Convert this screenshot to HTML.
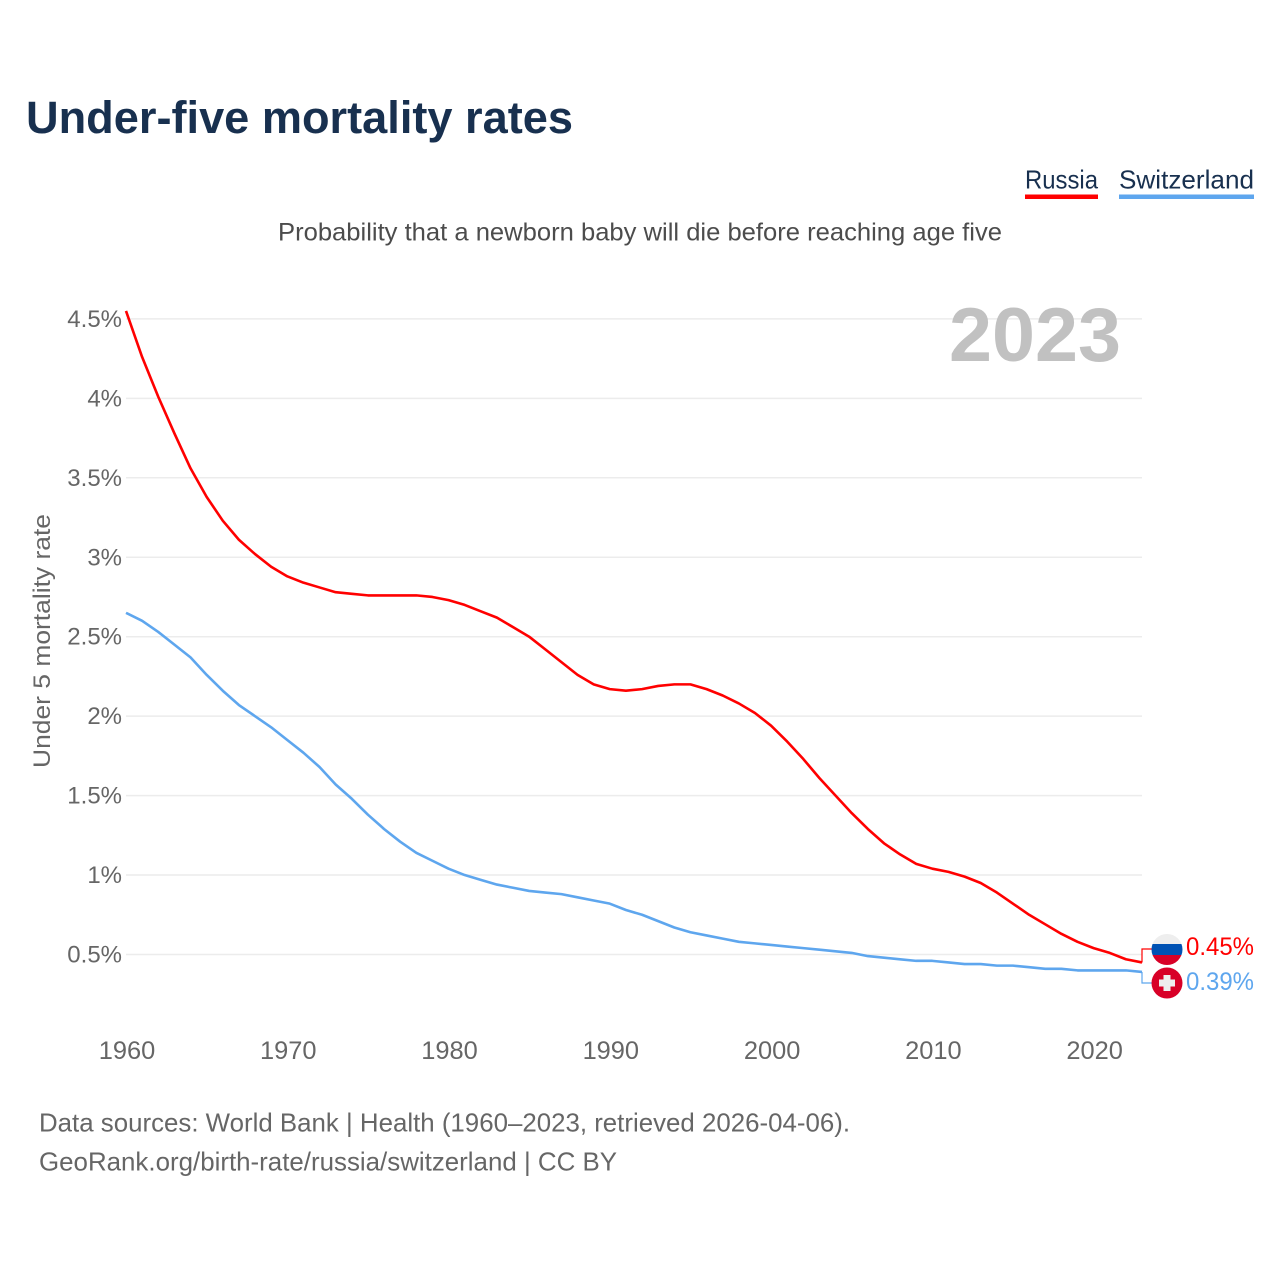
<!DOCTYPE html>
<html lang="en">
<head>
<meta charset="utf-8">
<title>Under-five mortality rates</title>
<style>
html,body{margin:0;padding:0;background:#fff;}
svg{display:block;font-family:"Liberation Sans",sans-serif;}
</style>
</head>
<body>
<svg id="chart" width="1280" height="1280" viewBox="0 0 1280 1280" xmlns="http://www.w3.org/2000/svg">
  <rect x="0" y="0" width="1280" height="1280" fill="#fff"/>
  <text x="26" y="133" font-size="45" font-weight="700" fill="#18304f" textLength="547" lengthAdjust="spacingAndGlyphs">Under-five mortality rates</text>
  <g>
    <g>
      <text x="1025" y="188.5" font-size="26" fill="#18304f" textLength="73" lengthAdjust="spacingAndGlyphs">Russia</text>
      <rect x="1025" y="194.5" width="73" height="4.5" fill="#ff0000"/>
    </g>
    <g>
      <text x="1119" y="188.5" font-size="26" fill="#18304f" textLength="135" lengthAdjust="spacingAndGlyphs">Switzerland</text>
      <rect x="1119" y="194.5" width="135" height="4.5" fill="#5ea6ee"/>
    </g>
  </g>
  <text x="278" y="240.5" font-size="25" fill="#4c4c4c" textLength="724" lengthAdjust="spacingAndGlyphs">Probability that a newborn baby will die before reaching age five</text>
  <g id="grid"></g>
  <g id="yticks"></g>
  <g id="xticks"></g>
  <text x="949" y="361" font-size="76" font-weight="700" fill="#c1c1c1" textLength="172" lengthAdjust="spacingAndGlyphs">2023</text>
  <text transform="translate(50 768) rotate(-90)" x="0" y="0" font-size="24" fill="#666" textLength="254" lengthAdjust="spacingAndGlyphs">Under 5 mortality rate</text>
  <g id="series"></g>
  <g>
    <clipPath id="clipRu"><circle cx="1167" cy="949.5" r="15.5"/></clipPath>
    <g clip-path="url(#clipRu)">
      <rect x="1150" y="933" width="34" height="11" fill="#eeeeee"/>
      <rect x="1150" y="944" width="34" height="11" fill="#0052b4"/>
      <rect x="1150" y="955" width="34" height="12" fill="#d80027"/>
    </g>
  </g>
  <g>
    <circle cx="1167" cy="983" r="15.5" fill="#d80027"/>
    <rect x="1163.5" y="975" width="7" height="16" fill="#eeeeee"/>
    <rect x="1159" y="979.5" width="16" height="7" fill="#eeeeee"/>
  </g>
  <text x="1186" y="955" font-size="25" fill="#ff0000" textLength="68" lengthAdjust="spacingAndGlyphs">0.45%</text>
  <text x="1186" y="990" font-size="25" fill="#5ea6ee" textLength="68" lengthAdjust="spacingAndGlyphs">0.39%</text>
  <text x="39" y="1131.5" font-size="26" fill="#666" textLength="811" lengthAdjust="spacingAndGlyphs">Data sources: World Bank | Health (1960–2023, retrieved 2026-04-06).</text>
  <text x="39" y="1170.5" font-size="26" fill="#666" textLength="578" lengthAdjust="spacingAndGlyphs">GeoRank.org/birth-rate/russia/switzerland | CC BY</text>
</svg>
<script>
const firstYear = 1960;
const russia = [4.55,4.26,4.01,3.78,3.56,3.38,3.23,3.11,3.02,2.94,2.88,2.84,2.81,2.78,2.77,2.76,2.76,2.76,2.76,2.75,2.73,2.70,2.66,2.62,2.56,2.50,2.42,2.34,2.26,2.20,2.17,2.16,2.17,2.19,2.20,2.20,2.17,2.13,2.08,2.02,1.94,1.84,1.73,1.61,1.50,1.39,1.29,1.20,1.13,1.07,1.04,1.02,0.99,0.95,0.89,0.82,0.75,0.69,0.63,0.58,0.54,0.51,0.47,0.45];
const switzerland = [2.65,2.60,2.53,2.45,2.37,2.26,2.16,2.07,2.00,1.93,1.85,1.77,1.68,1.57,1.48,1.38,1.29,1.21,1.14,1.09,1.04,1.00,0.97,0.94,0.92,0.90,0.89,0.88,0.86,0.84,0.82,0.78,0.75,0.71,0.67,0.64,0.62,0.60,0.58,0.57,0.56,0.55,0.54,0.53,0.52,0.51,0.49,0.48,0.47,0.46,0.46,0.45,0.44,0.44,0.43,0.43,0.42,0.41,0.41,0.40,0.40,0.40,0.40,0.39];
const yTickValues = [0.5,1,1.5,2,2.5,3,3.5,4,4.5];
const yTickLabels = ["0.5%","1%","1.5%","2%","2.5%","3%","3.5%","4%","4.5%"];
const xTickLabels = [1960,1970,1980,1990,2000,2010,2020];

const NS = "http://www.w3.org/2000/svg";
function xScale(year){ return 126 + (year - 1960) * 16.127; }
function yScale(v){ return 954.5 - (v - 0.5) * 158.9; }
function mk(tag, attrs, parent){
  const el = document.createElementNS(NS, tag);
  for (const k in attrs) el.setAttribute(k, attrs[k]);
  parent.appendChild(el);
  return el;
}
const grid = document.getElementById("grid");
const yG = document.getElementById("yticks");
const xG = document.getElementById("xticks");
const seriesG = document.getElementById("series");










yTickValues.forEach(function(v, i){
  const line = mk("line", {x1:126, x2:1142, y1:yScale(v), y2:yScale(v), stroke:"#ececec", "stroke-width":1.5}, grid);
  
  
  const t = mk("text", {x:122, y:yScale(v)+8, "text-anchor":"end", "font-size":24, fill:"#666"}, yG);
  
  
  t.textContent = yTickLabels[i];
});
xTickLabels.forEach(function(y){
  const t = mk("text", {x:xScale(y)+1, y:1059, "text-anchor":"middle", "font-size":25.4, fill:"#666"}, xG);
  
  
  t.textContent = y;
});

function pts(arr){
  return arr.map(function(v, i){ return xScale(firstYear + i).toFixed(2) + "," + yScale(v).toFixed(2); }).join(" ");
}
const ruLine = mk("polyline", {points:pts(russia), fill:"none", stroke:"#ff0000", "stroke-width":2.6, "stroke-linejoin":"round"}, seriesG);


const chLine = mk("polyline", {points:pts(switzerland), fill:"none", stroke:"#5ea6ee", "stroke-width":2.6, "stroke-linejoin":"round"}, seriesG);



const lastX = xScale(firstYear + russia.length - 1);
const ruEnd = yScale(russia[russia.length - 1]);
const chEnd = yScale(switzerland[switzerland.length - 1]);
const ruConn = mk("polyline", {points:lastX+","+ruEnd+" "+lastX+",949 1153,949", fill:"none", stroke:"#ff0000", "stroke-width":1.2}, seriesG);


const chConn = mk("polyline", {points:lastX+","+chEnd+" "+lastX+",983 1153,983", fill:"none", stroke:"#5ea6ee", "stroke-width":1.2}, seriesG);


</script>
</body>
</html>
